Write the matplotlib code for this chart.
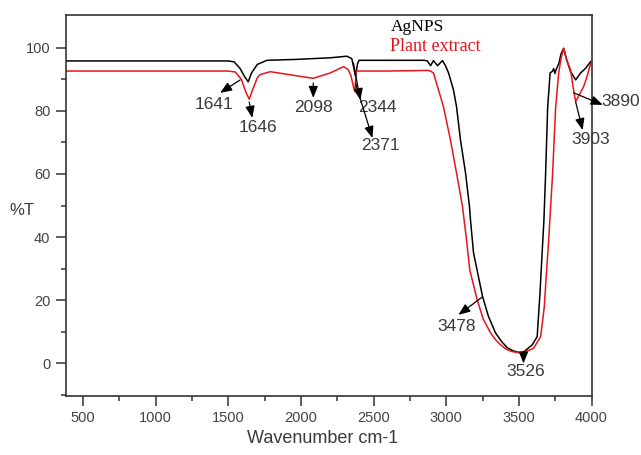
import numpy as np
import matplotlib
matplotlib.use("Agg")
import matplotlib.pyplot as plt

# ---- data ----
agnps_wn = [380, 1400, 1500, 1540, 1580, 1610, 1637, 1660, 1700, 1766, 1973, 2202, 2317,
            2350, 2362, 2375, 2390, 2400, 2600, 2850, 2870, 2892, 2912, 2940, 2974, 2995,
            3016, 3050, 3071, 3098, 3133, 3160, 3167, 3188, 3250, 3290, 3339, 3380, 3420,
            3460, 3500, 3525, 3555, 3592, 3626, 3645, 3660, 3672, 3684, 3698, 3715, 3730,
            3740, 3748, 3756, 3775, 3790, 3808, 3830, 3856, 3891, 3925, 3960, 3994]
agnps_t = [95.8, 95.8, 95.8, 95.5, 93.5, 91.0, 89.2, 92.0, 94.7, 96.0, 96.3, 96.8, 97.3,
           96.5, 94.0, 91.0, 95.0, 96.0, 96.0, 96.0, 95.8, 94.3, 95.9, 94.3, 95.9, 94.3,
           92.0, 86.6, 81.3, 70.8, 60.3, 49.7, 45.4, 35.0, 21.2, 15.0, 9.7, 7.0, 5.0,
           4.0, 3.5, 3.3, 4.5, 5.9, 8.5, 22.0, 35.0, 45.0, 60.0, 81.0, 92.0, 92.5,
           93.4, 91.8, 93.0, 95.0, 98.0, 99.8, 96.0, 92.4, 89.8, 92.0, 93.5, 95.6]

plant_wn = [380, 1500, 1548, 1590, 1620, 1644, 1670, 1700, 1720, 1789, 1927, 2085, 2202,
            2294, 2326, 2345, 2361, 2372, 2380, 2600, 2870, 2892, 2912, 2947, 2981, 3029,
            3071, 3112, 3140, 3162, 3213, 3255, 3305, 3340, 3374, 3410, 3450, 3500, 3560,
            3601, 3650, 3675, 3691, 3705, 3732, 3753, 3774, 3790, 3808, 3830, 3856, 3875,
            3891, 3915, 3946, 3970, 3994]
plant_t = [92.6, 92.6, 92.3, 90.0, 86.0, 83.7, 87.0, 90.5, 91.5, 92.4, 91.4, 90.3, 92.0,
           94.0, 93.0, 91.0, 87.7, 86.0, 92.6, 92.6, 92.8, 92.6, 92.0, 86.6, 81.3, 70.8,
           60.3, 49.7, 39.0, 29.6, 20.2, 14.0, 9.7, 7.5, 5.9, 4.6, 3.8, 3.4, 4.0,
           4.8, 8.5, 18.0, 29.6, 39.0, 60.0, 81.0, 92.0, 96.5, 99.8, 96.0, 92.9, 87.0,
           82.9, 85.0, 87.7, 91.0, 95.0]

# peak labels: text, text position (wn, %T), arrow tail, arrow head
peak_labels = ["1641", "1646", "2098", "2344", "2371", "3478", "3526", "3890", "3903"]
label_pos = [(1403, 81.9), (1706, 74.6), (2085, 81.1), (2526, 81.1), (2547, 69.1),
             (3071, 11.6), (3546, -2.6), (4201, 83.1), (3994, 70.8)]
arrow_tail = [(1582, 89.8), (1644, 82.8), (2085, 88.8), (2361, 95.2), (2375, 88.8),
              (3250, 21.1), (3532, 3.7), (3877, 85.7), (3891, 82.8)]
arrow_head = [(1444, 85.7), (1665, 77.8), (2085, 84.1), (2409, 83.4), (2492, 71.4),
              (3084, 15.4), (3532, 0.0), (4077, 81.9), (3939, 73.9)]

series_names = ["AgNPS", "Plant extract"]
series_colors = ["black", "#e8141c"]

x_ticks = [500, 1000, 1500, 2000, 2500, 3000, 3500, 4000]
y_ticks = [0, 20, 40, 60, 80, 100]

# ---- figure ----
fig = plt.figure(figsize=(6.41, 4.55), dpi=100)
ax = fig.add_axes([0.1023, 0.1297, 0.8205, 0.8363])

ax.plot(agnps_wn, agnps_t, color=series_colors[0], lw=1.1)
ax.plot(plant_wn, plant_t, color=series_colors[1], lw=1.1)

ax.set_xlim(380, 4000)
ax.set_ylim(-10.3, 110.2)

ax.set_xticks(x_ticks)
ax.set_xticks([750, 1250, 1750, 2250, 2750, 3250, 3750], minor=True)
ax.set_yticks(y_ticks)
ax.set_yticks([-10, 10, 30, 50, 70, 90], minor=True)

tick_col = "#444444"
ax.tick_params(axis="both", which="major", direction="out", length=7, width=1.1,
               color="#333333", labelsize=10.5, labelcolor=tick_col, pad=4)
ax.tick_params(axis="both", which="minor", direction="out", length=3.5, width=1.1,
               color="#333333")
for lab in ax.get_xticklabels() + ax.get_yticklabels():
    lab.set_family(["Liberation Sans", "DejaVu Sans"])
for sp in ax.spines.values():
    sp.set_linewidth(1.2)
    sp.set_color("#333333")

# annotations
for txt, tp, tail, head in zip(peak_labels, label_pos, arrow_tail, arrow_head):
    ax.annotate("", xy=head, xytext=tail,
                arrowprops=dict(arrowstyle="-|>,head_length=0.7,head_width=0.28",
                                color="black", lw=0.9, shrinkA=0, shrinkB=0),
                annotation_clip=False)
    ax.text(tp[0], tp[1], txt, ha="center", va="center", fontsize=12.5,
            color="#3a3a3a", family=["Liberation Sans", "DejaVu Sans"], clip_on=False)

# legend-like text
ax.text(2616, 106.5, series_names[0], ha="left", va="center", fontsize=12.5,
        color=series_colors[0], family=["Liberation Serif", "DejaVu Serif"])
ax.text(2616, 100.5, series_names[1], ha="left", va="center", fontsize=13,
        color=series_colors[1], family=["Liberation Serif", "DejaVu Serif"])

fig.text(0.034, 0.538, "%T", ha="center", va="center", fontsize=12,
         color="#3a3a3a", family=["Liberation Sans", "DejaVu Sans"])
fig.text(0.503, 0.037, "Wavenumber cm-1", ha="center", va="center", fontsize=13,
         color="#3a3a3a", family=["Liberation Sans", "DejaVu Sans"])

fig.savefig("out.png", dpi=100)
